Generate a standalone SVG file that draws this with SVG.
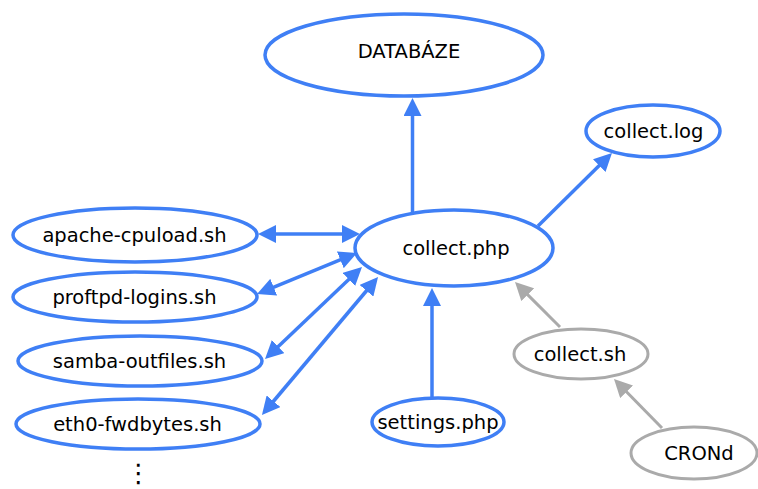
<svg xmlns="http://www.w3.org/2000/svg" width="758" height="489" viewBox="0 0 758 489">
  <style>
    .node ellipse { fill: #ffffff; stroke-width: 3.5; }
    .blue ellipse { stroke: #3f7ff5; }
    .grey ellipse { stroke: #aaaaaa; stroke-width: 3; }
    text { font-family: "DejaVu Sans", Verdana, sans-serif; font-size: 19.5px; fill: #000000; text-anchor: middle; }
    .edge { fill: none; stroke-width: 3.5; }
    .edge.b { stroke: #3f7ff5; }
    .edge.g { stroke: #aaaaaa; stroke-width: 3; }
  </style>
  <defs>
    <marker id="arrowBlue" markerUnits="userSpaceOnUse" markerWidth="18" markerHeight="18" refX="3" refY="9" orient="auto-start-reverse" viewBox="0 0 18 18">
      <path d="M0,0 L18,9 L0,18 z" fill="#3f7ff5"/>
    </marker>
    <marker id="arrowGrey" markerUnits="userSpaceOnUse" markerWidth="18" markerHeight="18" refX="3" refY="9" orient="auto-start-reverse" viewBox="0 0 18 18">
      <path d="M0,0 L18,9 L0,18 z" fill="#aaaaaa"/>
    </marker>
  </defs>

  <!-- connectors -->
  <g id="edges">
    <line class="edge b" x1="412.5" y1="212" x2="412.5" y2="113" marker-end="url(#arrowBlue)"/>
    <line class="edge b" x1="432" y1="398" x2="432" y2="303" marker-end="url(#arrowBlue)"/>
    <line class="edge b" x1="538" y1="226" x2="601.3" y2="163.5" marker-end="url(#arrowBlue)"/>
    <line class="edge b" x1="273" y1="234" x2="345" y2="234" marker-start="url(#arrowBlue)" marker-end="url(#arrowBlue)"/>
    <line class="edge b" x1="270.9" y1="288.3" x2="343.1" y2="258.7" marker-start="url(#arrowBlue)" marker-end="url(#arrowBlue)"/>
    <line class="edge b" x1="275.9" y1="348.7" x2="351.1" y2="277.3" marker-start="url(#arrowBlue)" marker-end="url(#arrowBlue)"/>
    <line class="edge b" x1="271.6" y1="403.5" x2="368.4" y2="288.5" marker-start="url(#arrowBlue)" marker-end="url(#arrowBlue)"/>
    <line class="edge g" x1="560" y1="327" x2="525.6" y2="292.6" marker-end="url(#arrowGrey)"/>
    <line class="edge g" x1="662" y1="428" x2="624.5" y2="389.7" marker-end="url(#arrowGrey)"/>
  </g>

  <!-- nodes -->
  <g id="databaze" class="node blue">
    <ellipse cx="404" cy="55" rx="139" ry="41"/>
    <text x="409" y="58">DATABÁZE</text>
  </g>
  <g id="collect-php" class="node blue">
    <ellipse cx="454" cy="248" rx="99" ry="38"/>
    <text x="456" y="255">collect.php</text>
  </g>
  <g id="collect-log" class="node blue">
    <ellipse cx="653" cy="131" rx="67" ry="26"/>
    <text x="653.5" y="138">collect.log</text>
  </g>
  <g id="apache-cpuload" class="node blue">
    <ellipse cx="135" cy="235" rx="122" ry="27"/>
    <text x="134.5" y="242">apache-cpuload.sh</text>
  </g>
  <g id="proftpd-logins" class="node blue">
    <ellipse cx="135" cy="297" rx="122" ry="25"/>
    <text x="134.5" y="304">proftpd-logins.sh</text>
  </g>
  <g id="samba-outfiles" class="node blue">
    <ellipse cx="140" cy="361" rx="122" ry="25"/>
    <text x="139.5" y="368">samba-outfiles.sh</text>
  </g>
  <g id="eth0-fwdbytes" class="node blue">
    <ellipse cx="138" cy="424" rx="122" ry="25"/>
    <text x="137.5" y="431">eth0-fwdbytes.sh</text>
  </g>
  <g id="settings-php" class="node blue">
    <ellipse cx="438" cy="422" rx="66" ry="24"/>
    <text x="438" y="429">settings.php</text>
  </g>
  <g id="collect-sh" class="node grey">
    <ellipse cx="581" cy="354" rx="67" ry="25"/>
    <text x="580" y="361">collect.sh</text>
  </g>
  <g id="crond" class="node grey">
    <ellipse cx="694" cy="453" rx="63" ry="26"/>
    <text x="699" y="460">CRONd</text>
  </g>

  <!-- more scripts follow -->
  <text x="138.5" y="482" style="font-size:26px">⋮</text>
</svg>
